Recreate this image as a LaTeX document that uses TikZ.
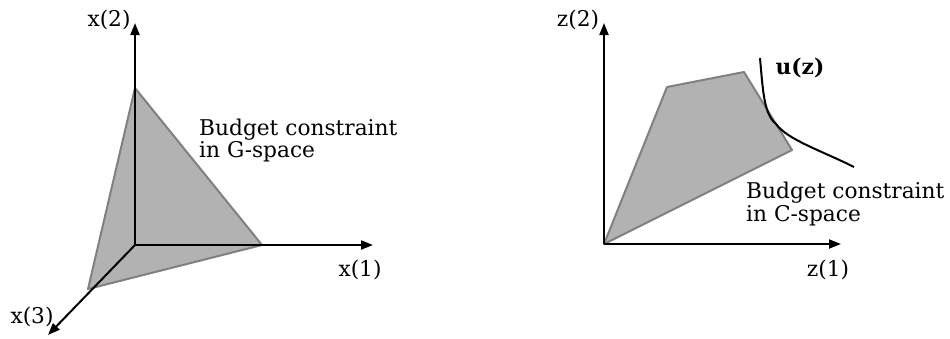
\documentclass[tikz,border=0pt]{standalone}
\usepackage{fontspec}
\setmainfont{DejaVu Serif}
\usetikzlibrary{arrows.meta}
\begin{document}
\begin{tikzpicture}[x=1pt,y=-1pt,
  axis/.style={line width=2pt,-{Stealth[length=12pt,width=9pt,inset=0pt]}},
  region/.style={fill=black!30,draw=black!50,line width=2pt,line join=round},
  lbl/.style={font=\fontsize{21.7}{22}\selectfont,inner sep=0pt},
  blk/.style={font=\fontsize{21.7}{22}\selectfont,inner sep=0pt,anchor=base west}]
\useasboundingbox (0,0) rectangle (950,338);
% left figure
\coordinate (o1) at (135,245);
\coordinate (t1) at (135,88);
\coordinate (r1) at (262,245);
\coordinate (b1) at (88,289);
\coordinate (x2tip) at (135,23);
\coordinate (x1tip) at (373,245);
\coordinate (x3tip) at (48,335);
\draw[region] (t1) -- (r1) -- (b1) -- cycle;
\draw[axis] (o1) -- (x2tip);
\draw[axis] (o1) -- (x1tip);
\draw[axis] (o1) -- (x3tip);
\node[lbl] (lx2) at (109,20) {x(2)};
\node[lbl] (lx1) at (360,270) {x(1)};
\node[lbl] (lx3) at (32,317) {x(3)};
\node[blk] (bg1) at (199,135) {Budget constraint};
\node[blk] (bg2) at (199,157) {in G-space};
% right figure
\coordinate (o2) at (604,244);
\coordinate (p2) at (667,87);
\coordinate (p3) at (744,72);
\coordinate (p4) at (792,150);
\coordinate (z2tip) at (604,23);
\coordinate (z1tip) at (841,244);
\draw[region] (o2) -- (p2) -- (p3) -- (p4) -- cycle;
\draw[axis] (o2) -- (z2tip);
\draw[axis] (o2) -- (z1tip);
\coordinate (u0) at (760,58);
\coordinate (u1) at (776,124);
\coordinate (u2) at (854,167);
\draw[line width=2pt] (u0) .. controls (763,92) and (764,114) .. (u1) .. controls (788,140) and (820,150) .. (u2);
\node[lbl] (lz2) at (578,20) {z(2)};
\node[lbl] (lz1) at (828,270) {z(1)};
\node[lbl,font=\fontsize{21.7}{22}\selectfont\bfseries] (uz) at (800,68) {u(z)};
\node[blk] (bc1) at (746,198) {Budget constraint};
\node[blk] (bc2) at (746,221) {in C-space};
\end{tikzpicture}
\end{document}
